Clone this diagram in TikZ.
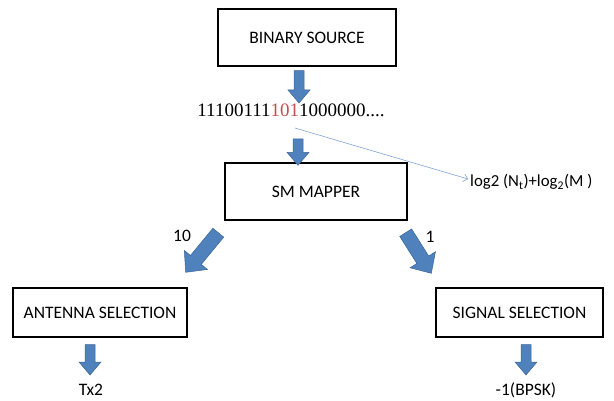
\documentclass[tikz,border=0pt]{standalone}
\usepackage{fontspec}
\setmainfont{Carlito}
\newfontfamily\bitsfont{Liberation Serif}
\usetikzlibrary{calc,arrows.meta,positioning}

\definecolor{arrowblue}{HTML}{4F81BD}
\definecolor{arrowedge}{HTML}{3A6596}
\definecolor{linkblue}{HTML}{7FA3D6}
\definecolor{bitred}{HTML}{C0504D}

\begin{document}
\begin{tikzpicture}[x=1pt,y=-1pt]

    \def\arrshaft{5pt}
    \def\arrheadw{11pt}
    \def\arrheadl{13pt}

    % Styles
    \tikzstyle{box}=[draw, line width=1.4pt, inner sep=0pt, font=\fontsize{17.5}{20}\selectfont]
    \tikzstyle{label}=[inner sep=0pt, font=\fontsize{17.5}{20}\selectfont]
    \tikzstyle{wide}=[/utils/exec={\def\arrshaft{7pt}\def\arrheadw{15pt}\def\arrheadl{16pt}}]
    \tikzstyle{blockarrow}=[draw=arrowedge, fill=arrowblue, line width=0.5pt, line join=miter,
        to path={
            ($(\tikztostart)!\arrshaft!90:(\tikztotarget)$)
            -- ($(\tikztotarget)!\arrheadl!(\tikztostart)!\arrshaft!-90:(\tikztostart)$)
            -- ($(\tikztotarget)!\arrheadl!(\tikztostart)!\arrheadw!-90:(\tikztostart)$)
            -- (\tikztotarget)
            -- ($(\tikztotarget)!\arrheadl!(\tikztostart)!\arrheadw!90:(\tikztostart)$)
            -- ($(\tikztotarget)!\arrheadl!(\tikztostart)!\arrshaft!90:(\tikztostart)$)
            -- ($(\tikztostart)!\arrshaft!-90:(\tikztotarget)$)
            -- cycle}]

    \useasboundingbox (0,0) rectangle (614,401);

    % binary source
    \node[box, minimum width=178pt, minimum height=57pt] (src) at (307,37.5) {BINARY SOURCE};

    % bit stream
    \node[inner sep=0pt, font=\bitsfont\fontsize{19}{22}\selectfont] (bits) at (291,110)
        {11100111\textcolor{bitred}{101}1000000....};

    % mapper
    \node[box, minimum width=182pt, minimum height=57pt] (map) at (316,191.5) {SM MAPPER};

    % bits per symbol
    \node[label, font=\fontsize{16.8}{20}\selectfont, anchor=west] (logexp) at (470,182)
        {log2 (N\textsubscript{t})+log\textsubscript{2}(M )};

    % selections
    \node[box, minimum width=174pt, minimum height=49pt] (ant) at (100,312.5) {ANTENNA SELECTION};
    \node[box, minimum width=167pt, minimum height=49pt] (sig) at (519.5,312.5) {SIGNAL SELECTION};

    % outputs
    \node[label] (tx) at (91,390) {Tx2};
    \node[label] (bpsk) at (526,390) {-1(BPSK)};

    % arrow ends
    \coordinate (a1s) at ([xshift=-8pt,yshift=-4pt]src.south);
    \coordinate (a1e) at (299,103);
    \coordinate (a2s) at (298,139);
    \coordinate (a2e) at ([xshift=-18pt,yshift=-3pt]map.north);
    \coordinate (a3s) at ([xshift=-6pt,yshift=-12pt]map.south west);
    \coordinate (a3e) at ([xshift=-2pt,yshift=15pt]ant.north east);
    \coordinate (a4s) at ([xshift=-2pt,yshift=-12pt]map.south east);
    \coordinate (a4e) at ([xshift=-4pt,yshift=14pt]sig.north west);
    \coordinate (a5s) at ([xshift=-10pt,yshift=-7pt]ant.south);
    \coordinate (a5e) at (90,375);
    \coordinate (a6s) at ([xshift=6.5pt,yshift=-7pt]sig.south);
    \coordinate (a6e) at (526,375);
    \coordinate (lns) at (295,128);

    % block arrows
    \draw[blockarrow] (a1s) to (a1e);
    \draw[blockarrow] (a2s) to (a2e);
    \draw[blockarrow, wide] (a3s) to (a3e);
    \draw[blockarrow, wide] (a4s) to (a4e);
    \draw[blockarrow] (a5s) to (a5e);
    \draw[blockarrow] (a6s) to (a6e);

    % branch labels
    \node[label] (lten) at (182,236) {10};
    \node[label] (lone) at (430,237) {1};

    % thin pointer
    \draw[linkblue, line width=0.6pt, -{Straight Barb[length=4pt,width=8pt]}]
        (lns) -- ([xshift=-2pt,yshift=3pt]logexp.west);

\end{tikzpicture}
\end{document}
